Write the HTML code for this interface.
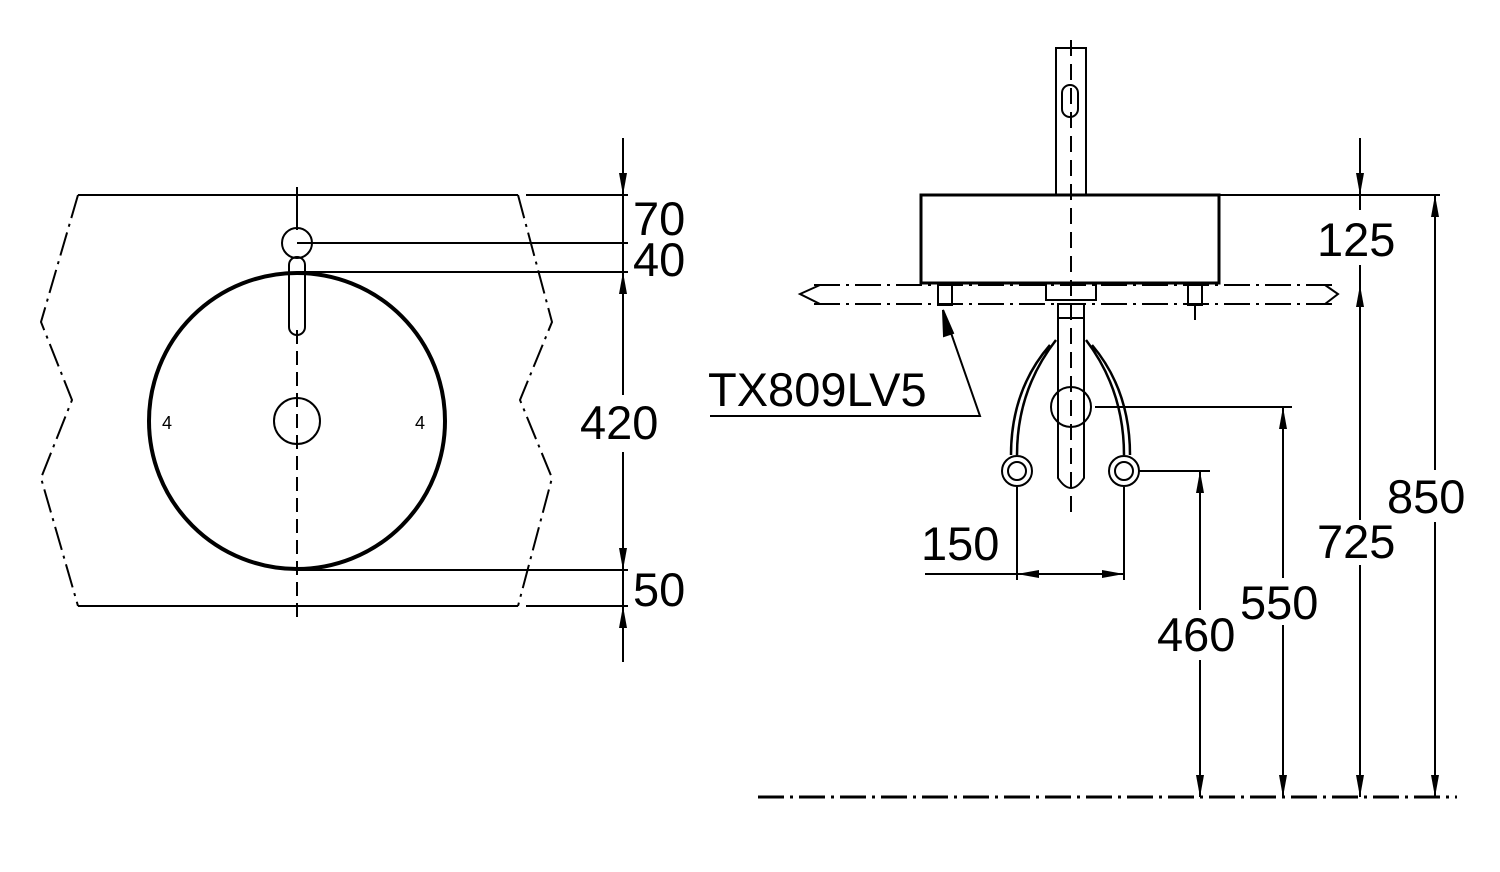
<!DOCTYPE html>
<html><head><meta charset="utf-8"><style>html,body{margin:0;padding:0;background:#fff}svg{display:block}</style></head>
<body>
<svg width="1500" height="872" viewBox="0 0 1500 872" xmlns="http://www.w3.org/2000/svg" font-family="Liberation Sans, sans-serif" font-size="47" fill="none" stroke="#000" stroke-width="2">
<!-- LEFT PLAN VIEW -->
<line x1="78" y1="195" x2="518" y2="195"/>
<line x1="78" y1="606" x2="518" y2="606"/>
<g stroke-dasharray="24,6,3,6">
<polyline points="78,195 41,322 72,400 41,478 78,606"/>
<polyline points="518,195 552,322 520,400 552,478 518,606"/>
</g>
<line x1="526" y1="195" x2="628" y2="195"/>
<line x1="526" y1="606" x2="628" y2="606"/>
<line x1="297" y1="243" x2="628" y2="243"/>
<line x1="297" y1="272" x2="628" y2="272"/>
<line x1="297" y1="570" x2="628" y2="570"/>
<line x1="623" y1="138" x2="623" y2="395"/>
<line x1="623" y1="452" x2="623" y2="662"/>
<g fill="#000" stroke="none">
<path d="M623,195 l-4,-22 h8z"/>
<path d="M623,272 l-4,22 h8z"/>
<path d="M623,570 l-4,-22 h8z"/>
<path d="M623,606 l-4,22 h8z"/>
</g>
<circle cx="297" cy="421" r="148" stroke-width="4"/>
<circle cx="297" cy="421" r="23"/>
<line x1="297" y1="187" x2="297" y2="230"/>
<line x1="297" y1="330" x2="297" y2="618" stroke-dasharray="14,7"/>
<circle cx="297" cy="243" r="15"/>
<rect x="289" y="257" width="16" height="78" rx="8"/>
<text x="162" y="429" font-size="18" fill="#000" stroke="none">4</text>
<text x="415" y="429" font-size="18" fill="#000" stroke="none">4</text>
<g fill="#000" stroke="none">
<text x="633" y="235">70</text>
<text x="633" y="276">40</text>
<text x="580" y="439">420</text>
<text x="633" y="606">50</text>
</g>
<!-- RIGHT SIDE VIEW -->
<rect x="1056" y="48" width="30" height="147"/>
<rect x="1062" y="85" width="16" height="32" rx="8"/>
<rect x="921" y="195" width="298" height="88" stroke-width="3"/>
<line x1="1071" y1="40" x2="1071" y2="520" stroke-dasharray="16,8"/>
<g stroke-dasharray="26,6,3,6">
<line x1="814" y1="285" x2="1335" y2="285"/>
<line x1="814" y1="304" x2="1335" y2="304"/>
<line x1="758" y1="797" x2="1457" y2="797" stroke-width="3"/>
</g>
<polyline points="820,285 800,294 820,304"/>
<polyline points="1325,285 1338,294 1325,304"/>
<rect x="938" y="283" width="14" height="22"/>
<rect x="1188" y="283" width="14" height="22"/>
<line x1="1195" y1="305" x2="1195" y2="320"/>
<path d="M1046,283 L1046,300 L1096,300 L1096,283"/>
<rect x="1058" y="304" width="26" height="14"/>
<path d="M1058,318 L1058,478 Q1071,498 1084,478 L1084,318"/>
<circle cx="1071" cy="407" r="20"/>
<path d="M1056,340 Q1017,390 1017,455 M1050,345 Q1011,390 1011,455" stroke-width="2.5"/>
<path d="M1086,340 Q1124,390 1124,455 M1092,345 Q1130,390 1130,455" stroke-width="2.5"/>
<circle cx="1017" cy="471" r="15"/><circle cx="1017" cy="471" r="9"/>
<circle cx="1124" cy="471" r="15"/><circle cx="1124" cy="471" r="9"/>
<!-- leader -->
<polyline points="710,416 980,416 943,310"/>
<path d="M943,310 L944,336 L953,333z" fill="#000"/>
<!-- dims -->
<line x1="1219" y1="195" x2="1440" y2="195"/>
<line x1="1095" y1="407" x2="1292" y2="407"/>
<line x1="1139" y1="471" x2="1210" y2="471"/>
<line x1="1360" y1="138" x2="1360" y2="210"/>
<line x1="1360" y1="265" x2="1360" y2="520"/>
<line x1="1360" y1="565" x2="1360" y2="797"/>
<line x1="1435" y1="195" x2="1435" y2="470"/>
<line x1="1435" y1="522" x2="1435" y2="797"/>
<line x1="1283" y1="407" x2="1283" y2="578"/>
<line x1="1283" y1="625" x2="1283" y2="797"/>
<line x1="1200" y1="471" x2="1200" y2="610"/>
<line x1="1200" y1="660" x2="1200" y2="797"/>
<line x1="1017" y1="487" x2="1017" y2="580"/>
<line x1="1124" y1="487" x2="1124" y2="580"/>
<line x1="925" y1="574" x2="1124" y2="574"/>
<g fill="#000" stroke="none">
<path d="M1360,195 l-4,-22 h8z"/>
<path d="M1360,285 l-4,22 h8z"/>
<path d="M1360,797 l-4,-22 h8z"/>
<path d="M1435,195 l-4,22 h8z"/>
<path d="M1435,797 l-4,-22 h8z"/>
<path d="M1283,407 l-4,22 h8z"/>
<path d="M1283,797 l-4,-22 h8z"/>
<path d="M1200,471 l-4,22 h8z"/>
<path d="M1200,797 l-4,-22 h8z"/>
<path d="M1017,574 l22,-4 v8z"/>
<path d="M1124,574 l-22,-4 v8z"/>
</g>
<g fill="#000" stroke="none">
<text x="1317" y="256">125</text>
<text x="1387" y="513">850</text>
<text x="1317" y="558">725</text>
<text x="1240" y="619">550</text>
<text x="1157" y="651">460</text>
<text x="921" y="560">150</text>
<text x="708" y="406">TX809LV5</text>
</g>
</svg>
</body></html>
